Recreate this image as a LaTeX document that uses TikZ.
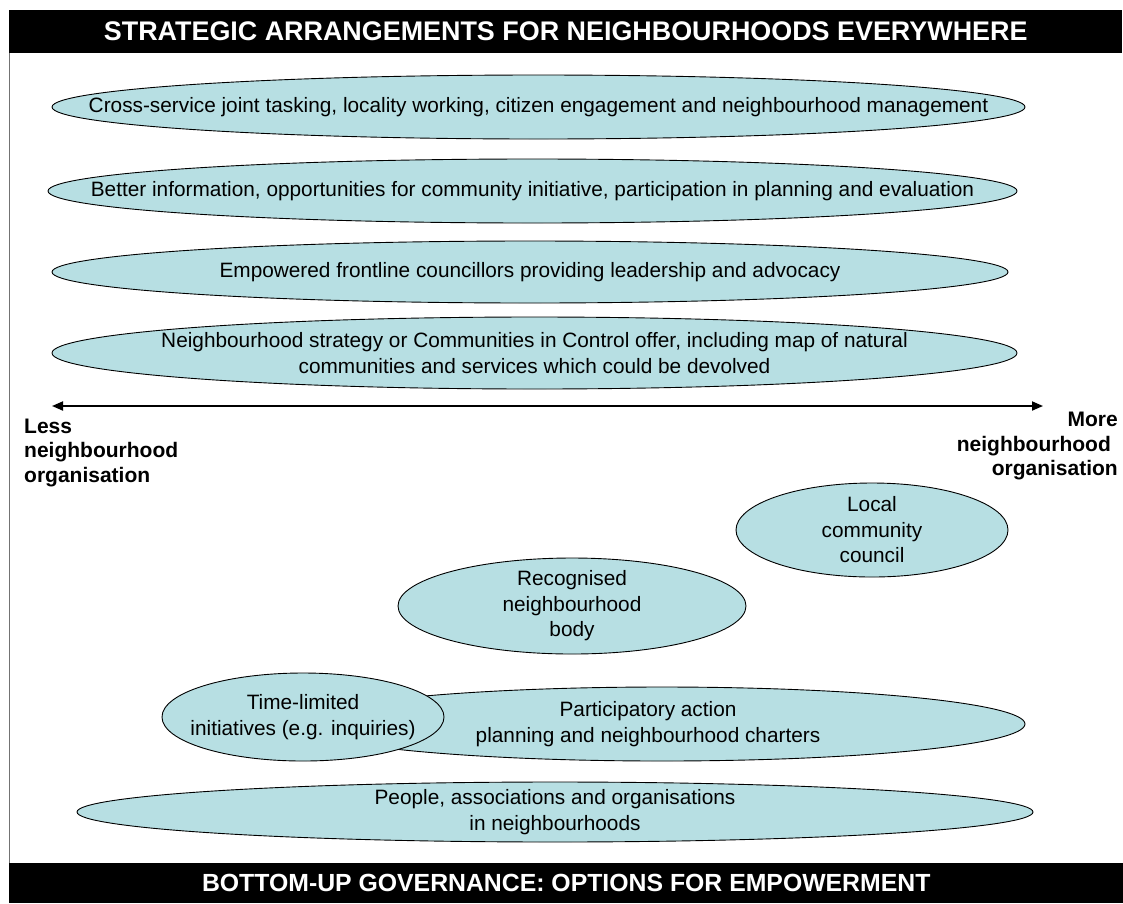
\documentclass[tikz,border=0pt]{standalone}
\usepackage{fontspec}
\setmainfont{Liberation Sans}
\usetikzlibrary{shapes.geometric,arrows.meta}
\definecolor{blobfill}{RGB}{183,223,227}
\begin{document}
\begin{tikzpicture}[x=1pt,y=-1pt,
  blob/.style={ellipse, draw=black, line width=0.9pt, fill=blobfill, inner sep=0pt},
  lbl/.style={font=\fontsize{20.8}{25.5}\selectfont, align=center, inner sep=0pt},
  side/.style={font=\fontsize{21}{24.5}\selectfont\bfseries, inner sep=0pt},
  banner/.style={fill=black, draw=none, inner sep=0pt, text=white},
  frameline/.style={draw=black!55, line width=1.3pt},
  axis/.style={line width=1.8pt, {Triangle[length=11pt,width=9pt]}-{Triangle[length=11pt,width=9pt]}}]
\useasboundingbox (0,0) rectangle (1123,903);
\fill[white] (0,0) rectangle (1123,903);
% banners
\node[banner, minimum width=1113pt, minimum height=43pt, anchor=north west, font=\fontsize{26.9}{30}\selectfont\bfseries] (top) at (9,10) {STRATEGIC ARRANGEMENTS FOR NEIGHBOURHOODS EVERYWHERE};
\node[banner, minimum width=1114pt, minimum height=40pt, anchor=north west, font=\fontsize{24.8}{28}\selectfont\bfseries] (bot) at (9,863) {BOTTOM-UP GOVERNANCE: OPTIONS FOR EMPOWERMENT};
\draw[frameline] ([xshift=0.65pt]top.south west) -- ([xshift=0.65pt]bot.north west);
% top ellipses
\node[blob, minimum width=973pt, minimum height=64pt] (e1) at (538.5,107) {};
\node[lbl] (t1) at (e1) {Cross-service joint tasking, locality working, citizen engagement and neighbourhood management};
\node[blob, minimum width=969pt, minimum height=64pt] (e2) at (532.5,191) {};
\node[lbl] (t2) at (e2) {Better information, opportunities for community initiative, participation in planning and evaluation};
\node[blob, minimum width=956pt, minimum height=62pt] (e3) at (530,272) {};
\node[lbl] (t3) at (e3) {Empowered frontline councillors providing leadership and advocacy};
\node[blob, minimum width=965pt, minimum height=72pt] (e4) at (534.5,353) {};
\node[lbl] (t4) at (e4) {Neighbourhood strategy or Communities in Control offer, including map of natural\\communities and services which could be devolved};
% axis
\coordinate (al) at (52,406);
\coordinate (ar) at (1043,406);
\draw[axis] (al) -- (ar);
\node[side, align=left, anchor=north west] (less) at (24,418.5) {Less\\neighbourhood\\organisation};
\node[side, align=right, anchor=north east] (more) at (1118,412) {More\\\mbox{neighbourhood\hspace{7pt}}\\organisation};
% lower ellipses
\node[blob, minimum width=272pt, minimum height=94pt] (lcc) at (872,530) {};
\node[lbl] (tlcc) at (lcc) {Local\\community\\council};
\node[blob, minimum width=726pt, minimum height=74pt] (pap) at (662,724) {};
\node[lbl] (tpap) at (648,724) {Participatory action\\planning and neighbourhood charters};
\node[blob, minimum width=348pt, minimum height=96pt] (rnb) at (572,606) {};
\node[lbl] (trnb) at (rnb) {Recognised\\neighbourhood\\body};
\node[blob, minimum width=282pt, minimum height=88pt] (tli) at (303,717) {};
\node[lbl] (ttli) at (tli) {Time-limited\\initiatives (e.g. inquiries)};
\node[blob, minimum width=956pt, minimum height=60pt] (pao) at (555,812) {};
\node[lbl] (tpao) at (pao) {People, associations and organisations\\in neighbourhoods};
\end{tikzpicture}
\end{document}
